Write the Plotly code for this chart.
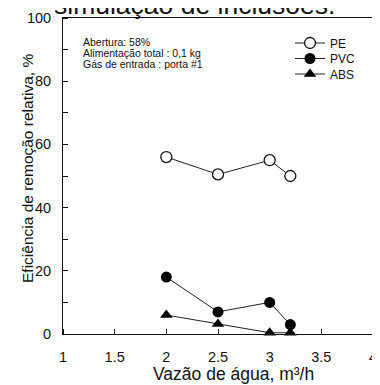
import plotly.graph_objects as go

x_vals = [2, 2.5, 3, 3.2]
pe = [56, 50.5, 55, 50]
pvc = [18, 7, 10, 3]
abs_ = [6, 3.2, 0.4, 0.4]
x_ticks = [1, 1.5, 2, 2.5, 3, 3.5, 4]
x_labels = ["1", "1.5", "2", "2.5", "3", "3.5", "4"]
y_ticks = [0, 20, 40, 60, 80, 100]
notes = ["Abertura: 58%", "Alimentação total : 0,1 kg", "Gás de entrada : porta #1"]

# page body has an 8px offset; work in figure pixels
L, R, T, B = 55, 365, 10, 326
W, H = 380, 385
PW, PH = R - L, B - T


def px(x):
    return (x - L) / PW


def py(y):
    return (B - y) / PH


fig = go.Figure()
line = dict(color="#222", width=1)
fig.add_trace(go.Scatter(x=x_vals, y=pe, name="PE", mode="lines+markers", line=line, legend="legend",
                         marker=dict(symbol="circle", size=11, color="white", line=dict(color="#111", width=1.3)),
                         cliponaxis=False))
fig.add_trace(go.Scatter(x=x_vals, y=pvc, name="PVC", mode="lines+markers", line=line, legend="legend2",
                         marker=dict(symbol="circle", size=11, color="#000"), cliponaxis=False))
fig.add_trace(go.Scatter(x=x_vals, y=abs_, name="ABS", mode="lines+markers", line=line, legend="legend3",
                         marker=dict(symbol="triangle-up", size=11, color="#000"), cliponaxis=False))

font = "Liberation Sans, Arial, sans-serif"
annots = []
for i, t in enumerate(notes):
    annots.append(dict(text=t, xref="paper", yref="paper", x=px(73), y=py(34 + 11 * i),
                       xanchor="left", yanchor="middle", align="left", showarrow=False,
                       font=dict(size=10.5, family=font)))
annots.append(dict(text="simulação de inclusões.", xref="paper", yref="paper", x=px(186), y=1,
                   xanchor="center", yanchor="bottom", yshift=-4, showarrow=False,
                   font=dict(size=26.5, family=font)))
annots.append(dict(text="Eficiência de remoção relativa, %", xref="paper", yref="paper", x=px(19), y=py(161),
                   xanchor="center", yanchor="middle", textangle=-90, showarrow=False,
                   font=dict(size=15.5, family=font)))
annots.append(dict(text="Vazão de água, m³/h", xref="paper", yref="paper", x=px(225.5), y=py(366),
                   xanchor="center", yanchor="middle", showarrow=False,
                   font=dict(size=17.5, family=font)))

leg_common = dict(xanchor="left", yanchor="middle", bgcolor="rgba(0,0,0,0)",
                  font=dict(size=12, family=font), itemwidth=30)

fig.update_layout(
    width=W, height=H,
    margin=dict(l=L, r=W - R, t=T, b=H - B, autoexpand=False),
    paper_bgcolor="white", plot_bgcolor="white",
    font=dict(family=font, color="#111", size=14.5),
    showlegend=True,
    legend=dict(x=px(282), y=py(35), **leg_common),
    legend2=dict(x=px(282), y=py(50.5), **leg_common),
    legend3=dict(x=px(282), y=py(66), **leg_common),
    xaxis=dict(range=[1, 4], tickvals=x_ticks, ticktext=x_labels, ticks="outside", ticklen=10,
               tickcolor="rgba(0,0,0,0)",
               minor=dict(dtick=0.5, tick0=1, ticks="inside", ticklen=5, tickcolor="#111"),
               showline=True, linecolor="#111", linewidth=1, mirror=True, showgrid=False,
               automargin=False, ticklabeloverflow="allow", zeroline=False),
    yaxis=dict(range=[0, 100], tickvals=y_ticks, ticks="outside", ticklen=8,
               tickcolor="rgba(0,0,0,0)",
               minor=dict(dtick=10, tick0=0, ticks="inside", ticklen=5, tickcolor="#111"),
               showline=True, linecolor="#111", linewidth=1, mirror=True, showgrid=False,
               automargin=False, zeroline=False),
    annotations=annots,
)
fig.write_html("out.html")
